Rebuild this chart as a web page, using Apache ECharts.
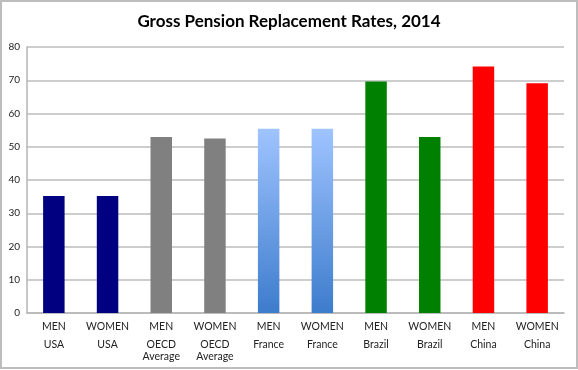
<!DOCTYPE html>
<html><head><meta charset="utf-8">
<script src="https://cdn.jsdelivr.net/npm/echarts@6/dist/echarts.min.js"></script>
<style>html,body{margin:0;padding:0;background:#fff}#c{width:578px;height:370px}</style>
</head><body><div id="c"></div>
<script>
var sexes = ['MEN','WOMEN','MEN','WOMEN','MEN','WOMEN','MEN','WOMEN','MEN','WOMEN'];
var countries = ['USA','USA','OECD\nAverage','OECD\nAverage','France','France','Brazil','Brazil','China','China'];
var values = [35.2, 35.2, 52.9, 52.5, 55.4, 55.4, 69.6, 52.9, 74.1, 69.1];
var yTicks = [0,10,20,30,40,50,60,70,80];

var countryColor = {
  'USA': '#000080',
  'OECD\nAverage': '#808080',
  'France': {type:'linear',x:0,y:0,x2:0,y2:1,colorStops:[{offset:0,color:'#9fc4ff'},{offset:1,color:'#3d7ccc'}]},
  'Brazil': '#008000',
  'China': '#ff0000'
};
var cats = sexes.map(function(s,i){return s+'|'+countries[i];});
var chart = echarts.init(document.getElementById('c'));
chart.setOption({
  animation:false,
  title:{text:'Gross Pension Replacement Rates, 2014',left:'center',top:8,
    textStyle:{fontFamily:'Lato',fontWeight:'bold',fontSize:17,color:'#000'}},
  graphic:[{type:'rect',shape:{x:1,y:1,width:576,height:367},style:{fill:'none',stroke:'#bdbdbd',lineWidth:2},silent:true}],
  grid:{left:27,right:14,top:47,bottom:57},
  xAxis:{type:'category',data:cats,boundaryGap:true,
    axisLine:{lineStyle:{color:'#b5b5b5',width:1.5}},
    axisTick:{length:50,lineStyle:{color:'#bdbdbd',width:1.5}},
    axisLabel:{margin:2,interval:0,fontFamily:'Lato',fontSize:10.5,color:'#222',
      formatter:function(v){var p=v.split('|');var c=p[1].split('\n').map(function(t){return '{b|'+t+'}';}).join('\n');return '{a|'+p[0]+'}\n'+c;},
      rich:{a:{lineHeight:24,fontFamily:'Lato',fontSize:10.5,color:'#222'},b:{lineHeight:12,fontFamily:'Lato',fontSize:10.5,color:'#222'}}},
    splitLine:{show:false}},
  yAxis:{type:'value',min:yTicks[0],max:yTicks[yTicks.length-1],interval:10,
    axisLine:{show:true,lineStyle:{color:'#b5b5b5',width:1.5}},
    axisTick:{show:false},
    axisLabel:{margin:7,fontFamily:'Lato',fontSize:10,color:'#222'},
    splitLine:{lineStyle:{color:'#bdbdbd',width:1.5}}},
  series:[{type:'bar',barWidth:'40%',
    data:values.map(function(v,i){return {value:v,itemStyle:{color:countryColor[countries[i]]}};})}]
});
</script></body></html>
